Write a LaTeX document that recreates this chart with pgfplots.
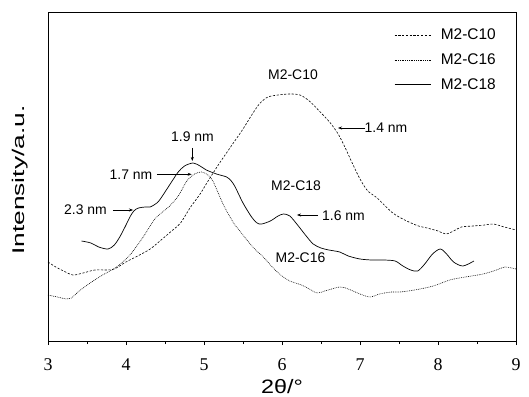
\documentclass[border=0pt]{standalone}
\usepackage{pgfplots}
\pgfplotsset{compat=1.18}
\usepackage{fontspec}
\usepackage{graphicx}
\setmainfont{Liberation Sans}
\newfontfamily\tickfont{Liberation Serif}
\usetikzlibrary{arrows.meta}
\begin{document}
\begin{tikzpicture}
\useasboundingbox (-48bp,-56bp) rectangle (481bp,341bp);
\begin{axis}[
  at={(0,0)}, anchor=south west,
  scale only axis, width=468bp, height=329bp,
  xmin=3, xmax=9, ymin=0, ymax=329,
  axis lines=box,
  xtick={3,4,5,6,7,8,9}, minor x tick num=1,
  ytick=\empty,
  xtick pos=bottom, tick align=outside,
  major tick length=4bp, minor tick length=3bp,
  axis line style={line width=0.9pt, black},
  every tick/.style={line width=0.8pt, black},
  /pgf/number format/assume math mode=true,
  xticklabel style={font=\tickfont\fontsize{18}{20}\selectfont, yshift=-10bp},
  xlabel={\scalebox{1.2}[1]{2θ/°}},
  xlabel style={font=\fontsize{19.5}{22}\selectfont, inner sep=0pt, at={(axis description cs:0.5,-0.138)}, anchor=center},
  ylabel={\scalebox{1.55}[1]{Intensity/a.u.}},
  ylabel style={font=\fontsize{17}{20}\selectfont, inner sep=0pt, at={(axis description cs:-0.0598,0.489)}, anchor=center},
  legend cell align=left,
  legend style={draw=none, fill=none, at={(0.9615,0.955)}, anchor=north east,
    font=\fontsize{15.5}{18}\selectfont, row sep=8.5bp, inner sep=0pt,
    /tikz/every odd column/.append style={column sep=8bp}},
  legend image code/.code={\draw[#1] (0bp,0bp) -- (36bp,0bp);},
  clip=false,
]
\addplot[black, line width=0.6pt, dash pattern=on 2.2pt off 1.6pt, smooth] coordinates {
(3.00,79) (3.1,74) (3.2,70) (3.32,66) (3.45,68) (3.6,71) (3.75,71) (3.85,72)
(4.0,79) (4.15,85) (4.31,92) (4.45,101) (4.6,111) (4.7,118) (4.82,133) (4.95,147)
(5.06,161) (5.2,178) (5.35,195) (5.5,212) (5.62,227) (5.72,238) (5.82,244) (5.95,246)
(6.1,247) (6.23,246) (6.35,240) (6.49,229) (6.62,218) (6.72,207) (6.8,195) (6.9,178)
(7.0,162) (7.1,150) (7.22,143) (7.42,128) (7.6,120) (7.75,115) (7.86,113) (8.0,110)
(8.1,107) (8.2,110) (8.3,114) (8.45,115) (8.6,116) (8.71,117) (8.85,114) (9.0,111)
};
\addlegendentry{M2-C10}
\addplot[black, line width=0.6pt, dash pattern=on 0.8pt off 1.0pt, smooth] coordinates {
(3.00,46) (3.12,44) (3.24,42) (3.3,43) (3.4,50) (3.54,58) (3.7,66) (3.88,74)
(4.05,86) (4.22,104) (4.37,122) (4.5,131) (4.56,135) (4.67,145) (4.78,160) (4.88,167)
(4.97,169) (5.05,166) (5.12,159) (5.25,136) (5.38,118) (5.46,110) (5.55,101) (5.65,92)
(5.76,84) (5.9,72) (6.0,65) (6.1,60) (6.25,56) (6.35,52) (6.45,48) (6.55,50)
(6.74,54) (6.85,52) (7.0,47) (7.13,44) (7.25,47) (7.4,49) (7.51,49) (7.7,51)
(7.94,55) (8.15,61) (8.35,64) (8.58,67) (8.75,71) (8.86,74) (9.0,72)
};
\addlegendentry{M2-C16}
\addplot[black, line width=0.7pt, smooth] coordinates {
(3.43,100) (3.55,98) (3.65,94) (3.77,92) (3.85,96) (3.92,104) (4.0,116) (4.05,124)
(4.1,130) (4.16,133) (4.25,134) (4.31,134) (4.41,139) (4.5,149) (4.6,161) (4.67,169)
(4.75,175) (4.86,178) (4.95,175) (5.03,171) (5.16,167) (5.29,164) (5.35,160) (5.4,154)
(5.5,138) (5.61,124) (5.68,118) (5.74,117) (5.85,120) (5.95,125) (6.02,127) (6.1,125)
(6.2,116) (6.3,106) (6.4,97) (6.5,93) (6.6,91) (6.74,89) (6.85,85) (7.0,82)
(7.15,81) (7.3,81) (7.45,80) (7.55,75) (7.65,71) (7.74,70) (7.83,77) (7.93,87)
(8.03,92) (8.11,87) (8.2,79) (8.32,75) (8.46,80)
};
\addlegendentry{M2-C18}
\begin{scope}[font=\fontsize{14}{16}\selectfont]
\node at (axis cs:6.141,266) {M2-C10};
\node at (axis cs:7.333,213) {1.4 nm};
\node at (axis cs:4.853,204) {1.9 nm};
\node at (axis cs:4.064,166.7) {1.7 nm};
\node at (axis cs:6.18,155) {M2-C18};
\node at (axis cs:3.481,131) {2.3 nm};
\node at (axis cs:6.788,125) {1.6 nm};
\node at (axis cs:6.237,83) {M2-C16};
\end{scope}
\begin{scope}[line width=0.6pt, -{Stealth[length=4bp,width=3bp]}]
\draw (axis cs:7.064,213) -- (axis cs:6.718,213);
\draw (axis cs:4.85,193) -- (axis cs:4.85,180);
\draw (axis cs:4.397,166.7) -- (axis cs:4.842,166.7);
\draw (axis cs:3.833,131) -- (axis cs:4.09,131);
\draw (axis cs:6.462,126) -- (axis cs:6.192,126);
\end{scope}
\draw[line width=0.9pt, black] (rel axis cs:0,0) rectangle (rel axis cs:1,1);
\end{axis}
\end{tikzpicture}
\end{document}
